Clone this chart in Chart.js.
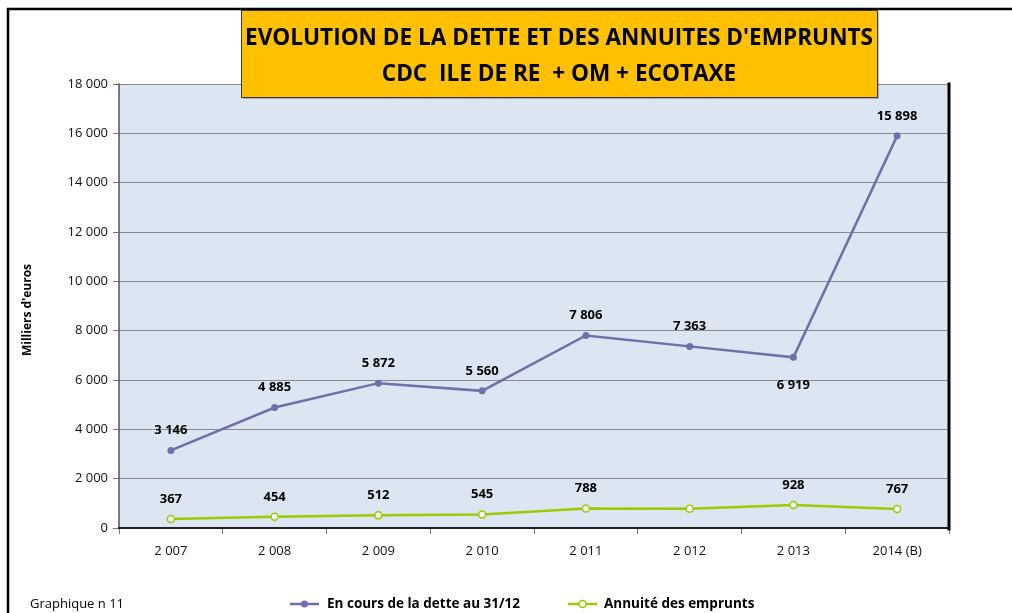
<!DOCTYPE html>
<html>
<head>
<meta charset="utf-8">
<script src="https://cdn.jsdelivr.net/npm/chart.js@4"></script>
<style>
  html, body { margin: 0; padding: 0; background: #fff; }
  #wrap { width: 1012px; height: 613px; }
</style>
</head>
<body>
<div id="wrap"><canvas id="myChart" width="1012" height="613"></canvas></div>
<script>
// données
const annees = ['2 007', '2 008', '2 009', '2 010', '2 011', '2 012', '2 013', '2014 (B)'];
const encoursDette = [3146, 4885, 5872, 5560, 7806, 7363, 6919, 15898];
const annuites = [367, 454, 512, 545, 788, 785, 928, 767];
const annuitesSansEtiquette = [5]; // pas d'étiquette sur 2012
const titre1 = "EVOLUTION DE LA DETTE ET DES ANNUITES D'EMPRUNTS";
const titre2 = 'CDC  ILE DE RE  + OM + ECOTAXE';

const FONT = "'Open Sans', 'DejaVu Sans', sans-serif";
const VIOLET = '#6f6fab';
const VERT = '#99cc00';

// format "15 898"
function fmt(v) {
  return String(Math.round(v)).replace(/\B(?=(\d{3})+(?!\d))/g, ' ');
}

// fond de la zone de traçage
const fondPlugin = {
  id: 'fond',
  beforeDraw(chart) {
    const { ctx, chartArea: a } = chart;
    ctx.save();
    ctx.fillStyle = '#dce6f2';
    ctx.fillRect(a.left, a.top, a.right - a.left, a.bottom - a.top);
    ctx.restore();
  }
};

// étiquettes de données
const etiquettesPlugin = {
  id: 'etiquettes',
  afterDatasetsDraw(chart) {
    const ctx = chart.ctx;
    ctx.save();
    ctx.font = 'bold 13px ' + FONT;
    ctx.fillStyle = '#000';
    ctx.textAlign = 'center';
    ctx.textBaseline = 'middle';
    chart.getDatasetMeta(0).data.forEach((pt, i) => {
      const dy = i === 6 ? 28 : -20;
      ctx.fillText(fmt(encoursDette[i]), pt.x, pt.y + dy);
    });
    chart.getDatasetMeta(1).data.forEach((pt, i) => {
      if (annuitesSansEtiquette.includes(i)) return;
      ctx.fillText(fmt(annuites[i]), pt.x, pt.y - 20);
    });
    ctx.restore();
  }
};

// cadre, titre, légende, etc.
const decorPlugin = {
  id: 'decor',
  afterDraw(chart) {
    const { ctx, chartArea: a } = chart;
    ctx.save();

    // bordures de la zone de traçage
    ctx.lineCap = 'square';
    ctx.strokeStyle = '#8a8a8a'; ctx.lineWidth = 1;
    ctx.beginPath(); ctx.moveTo(a.left, a.top + 0.5); ctx.lineTo(a.right, a.top + 0.5); ctx.stroke();
    ctx.strokeStyle = '#555'; ctx.lineWidth = 1.5;
    ctx.beginPath(); ctx.moveTo(a.left, a.top); ctx.lineTo(a.left, a.bottom); ctx.stroke();
    ctx.strokeStyle = '#222'; ctx.lineWidth = 2;
    ctx.beginPath(); ctx.moveTo(a.left, a.bottom); ctx.lineTo(a.right, a.bottom); ctx.stroke();
    ctx.strokeStyle = '#000'; ctx.lineWidth = 3;
    ctx.beginPath(); ctx.moveTo(a.right, a.top); ctx.lineTo(a.right, a.bottom + 1); ctx.stroke();

    // cadre extérieur
    ctx.strokeStyle = '#000'; ctx.lineWidth = 2.5; ctx.lineCap = 'butt';
    ctx.beginPath(); ctx.moveTo(8, 613); ctx.lineTo(8, 9); ctx.lineTo(1012, 9); ctx.stroke();

    // boîte du titre
    const bx = 241, by = 10, bw = 636, bh = 87;
    ctx.fillStyle = 'rgba(0,0,0,0.25)';
    ctx.fillRect(bx + 2, by + 2, bw, bh);
    ctx.fillStyle = '#ffc000';
    ctx.fillRect(bx, by, bw, bh);
    ctx.strokeStyle = '#3a3a3a'; ctx.lineWidth = 1;
    ctx.strokeRect(bx + 0.5, by + 0.5, bw, bh);

    ctx.fillStyle = '#000';
    ctx.textBaseline = 'middle';
    ctx.textAlign = 'center';
    ctx.font = 'bold 23px ' + FONT;
    const w1 = ctx.measureText(titre1).width;
    const k = Math.min(1, 628 / w1);
    ctx.save();
    ctx.translate(559, 0);
    ctx.scale(k, 1);
    ctx.fillText(titre1, 0, 38);
    ctx.fillText(titre2, 0, 74);
    ctx.restore();

    // titre de l'axe Y
    ctx.save();
    ctx.translate(28, 310);
    ctx.rotate(-Math.PI / 2);
    ctx.font = 'bold 12px ' + FONT;
    ctx.fillStyle = '#000';
    ctx.fillText("Milliers d'euros", 0, 0, 92);
    ctx.restore();

    // pied
    ctx.textAlign = 'left';
    ctx.font = '13px ' + FONT;
    ctx.fillStyle = '#000';
    ctx.fillText('Graphique n 11', 30, 604, 104);

    // légende
    const y = 604;
    ctx.lineWidth = 2.5;
    ctx.strokeStyle = VIOLET;
    ctx.beginPath(); ctx.moveTo(290, y); ctx.lineTo(319, y); ctx.stroke();
    ctx.fillStyle = VIOLET;
    ctx.beginPath(); ctx.arc(304.5, y, 3.5, 0, Math.PI * 2); ctx.fill();
    ctx.strokeStyle = VERT;
    ctx.beginPath(); ctx.moveTo(568, y); ctx.lineTo(597, y); ctx.stroke();
    ctx.fillStyle = '#fff'; ctx.lineWidth = 1.5;
    ctx.beginPath(); ctx.arc(582.5, y, 3.5, 0, Math.PI * 2); ctx.fill(); ctx.stroke();

    ctx.fillStyle = '#000';
    ctx.font = 'bold 13.5px ' + FONT;
    ctx.fillText('En cours de la dette au 31/12', 327, y, 196);
    ctx.fillText('Annuité des emprunts', 604, y, 152);

    ctx.restore();
  }
};

const chartCanvas = document.getElementById('myChart');
new Chart(chartCanvas, {
  type: 'line',
  data: {
    labels: annees,
    datasets: [
      {
        label: 'En cours de la dette au 31/12',
        data: encoursDette,
        borderColor: VIOLET,
        backgroundColor: VIOLET,
        borderWidth: 2.5,
        pointRadius: 3.5,
        pointBackgroundColor: VIOLET,
        pointBorderWidth: 0,
        tension: 0
      },
      {
        label: 'Annuité des emprunts',
        data: annuites,
        borderColor: VERT,
        backgroundColor: '#fff',
        borderWidth: 2.5,
        pointRadius: 3.5,
        pointBackgroundColor: '#fff',
        pointBorderColor: VERT,
        pointBorderWidth: 1.5,
        tension: 0
      }
    ]
  },
  options: {
    responsive: false,
    animation: false,
    layout: { padding: { left: 0, top: 84, right: 63, bottom: 0 } },
    plugins: {
      legend: { display: false },
      tooltip: { enabled: false }
    },
    scales: {
      x: {
        offset: true,
        grid: { offset: true, drawOnChartArea: false, drawTicks: true, tickLength: 6, color: '#777' },
        border: { display: false },
        ticks: { font: { family: FONT, size: 13 }, color: '#111', padding: 9, maxRotation: 0 },
        afterFit(s) { s.height = 85; }
      },
      y: {
        min: 0,
        max: 18000,
        ticks: {
          stepSize: 2000,
          font: { family: FONT, size: 13 },
          color: '#111',
          padding: 5,
          callback: v => fmt(v)
        },
        grid: { color: '#8a8a8a', lineWidth: 1, tickLength: 6, tickColor: '#777' },
        border: { display: false },
        afterFit(s) { s.width = 119; }
      }
    }
  },
  plugins: [fondPlugin, etiquettesPlugin, decorPlugin]
});
</script>
</body>
</html>
